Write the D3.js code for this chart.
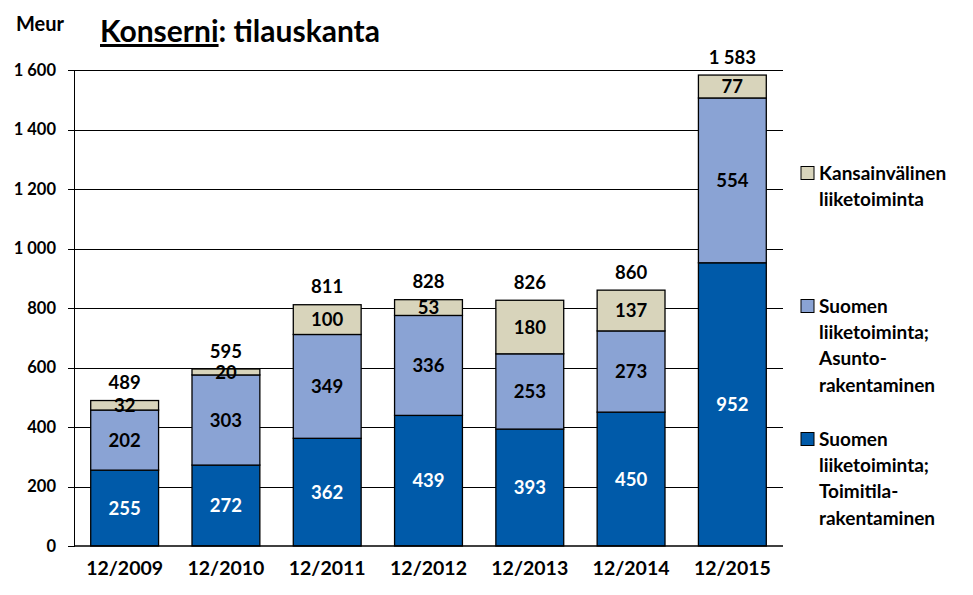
<!DOCTYPE html>
<html><head><meta charset="utf-8">
<script src="https://cdn.jsdelivr.net/npm/d3@7"></script>
<style>body{margin:0;background:#fff}svg{display:block}text{font-family:Lato,"Open Sans",sans-serif;font-weight:bold}</style>
</head><body><svg id="c" width="973" height="595"></svg>
<script>
const categories = ["12/2009","12/2010","12/2011","12/2012","12/2013","12/2014","12/2015"];
const toimitila = [255,272,362,439,393,450,952];
const asunto = [202,303,349,336,253,273,554];
const kansainvalinen = [32,20,100,53,180,137,77];
const totals = [489,595,811,828,826,860,1583];
const yTicks = [0,200,400,600,800,1000,1200,1400,1600];
const colors = ["#005aa9","#8aa3d4","#d8d4bb"];

const svg = d3.select("#c");
const L=74, R=783, T=70, B=546;
const x = d3.scaleBand().domain(categories).range([L,R]).paddingInner(0.33).paddingOuter(0.165);
const y = d3.scaleLinear().domain([0,1600]).range([B,T]);
const fmt = v => d3.format(",")(v).replace(/,/g," ");

// gridlines
svg.append("g").attr("shape-rendering","crispEdges").selectAll("line").data(yTicks.filter(d=>d>0)).join("line")
 .attr("x1",L).attr("x2",R).attr("y1",d=>Math.round(y(d))+0.5).attr("y2",d=>Math.round(y(d))+0.5).attr("stroke","#000").attr("stroke-width",1);

// y axis
const ya = svg.append("g").attr("transform",`translate(${L},0)`)
 .call(d3.axisLeft(y).tickValues(yTicks).tickSize(6).tickPadding(12).tickFormat(fmt));
ya.attr("shape-rendering","crispEdges");
ya.select(".domain").attr("stroke","#000");
ya.selectAll(".tick line").attr("stroke","#000");
ya.selectAll("text").attr("font-size",16.5).attr("fill","#000").style("font-family","Lato").style("font-weight","bold").attr("shape-rendering",null);

// stacked
const rows = categories.map((c,i)=>({cat:c, t:toimitila[i], a:asunto[i], k:kansainvalinen[i]}));
const stack = d3.stack().keys(["t","a","k"])(rows);
const g = svg.append("g");
stack.forEach((s,si)=>{
  g.selectAll(null).data(s).join("rect")
   .attr("x",d=>x(d.data.cat)).attr("width",x.bandwidth())
   .attr("y",d=>y(d[1])).attr("height",d=>y(d[0])-y(d[1]))
   .attr("fill",colors[si]).attr("stroke","#000").attr("stroke-width",1.3);
});
// bottom axis line
svg.append("line").attr("x1",L).attr("x2",R).attr("y1",B).attr("y2",B).attr("stroke","#000").attr("stroke-width",1.5);
stack.forEach((s,si)=>{
  g.selectAll(null).data(s).join("text")
   .attr("x",d=>x(d.data.cat)+x.bandwidth()/2).attr("y",d=>(y(d[0])+y(d[1]))/2)
   .attr("dy","0.36em").attr("text-anchor","middle").attr("font-size",18.5)
   .attr("fill",si===0?"#fff":"#000").text(d=>d[1]-d[0]);
});
// totals
svg.append("g").selectAll("text").data(categories).join("text")
 .attr("x",d=>x(d)+x.bandwidth()/2).attr("y",(d,i)=>y(totals[i])-18).attr("dy","0.36em")
 .attr("text-anchor","middle").attr("font-size",18.5).text((d,i)=>fmt(totals[i]));
// x labels
svg.append("g").selectAll("text").data(categories).join("text")
 .attr("x",d=>x(d)+x.bandwidth()/2).attr("y",568).attr("dy","0.36em")
 .attr("text-anchor","middle").attr("font-size",19.5).text(d=>d);

// title
const title = svg.append("text").attr("x",100).attr("y",42).attr("font-size",30);
title.append("tspan").attr("text-decoration","underline").text("Konserni");
title.append("tspan").text(": tilauskanta");
svg.append("text").attr("x",16).attr("y",31).attr("font-size",20).text("Meur");

// legend
const legend = [
 {c:colors[2], lines:["Kansainvälinen","liiketoiminta"], y0:173},
 {c:colors[1], lines:["Suomen","liiketoiminta;","Asunto-","rakentaminen"], y0:306},
 {c:colors[0], lines:["Suomen","liiketoiminta;","Toimitila-","rakentaminen"], y0:439}
];
const lg = svg.append("g");
legend.forEach(it=>{
  lg.append("rect").attr("x",801).attr("y",it.y0-6.5).attr("width",13).attr("height",13)
   .attr("fill",it.c).attr("stroke","#000").attr("stroke-width",1);
  it.lines.forEach((t,j)=>{
    lg.append("text").attr("x",819).attr("y",it.y0+j*26.3).attr("dy","0.36em").attr("font-size",19).text(t);
  });
});
</script></body></html>
